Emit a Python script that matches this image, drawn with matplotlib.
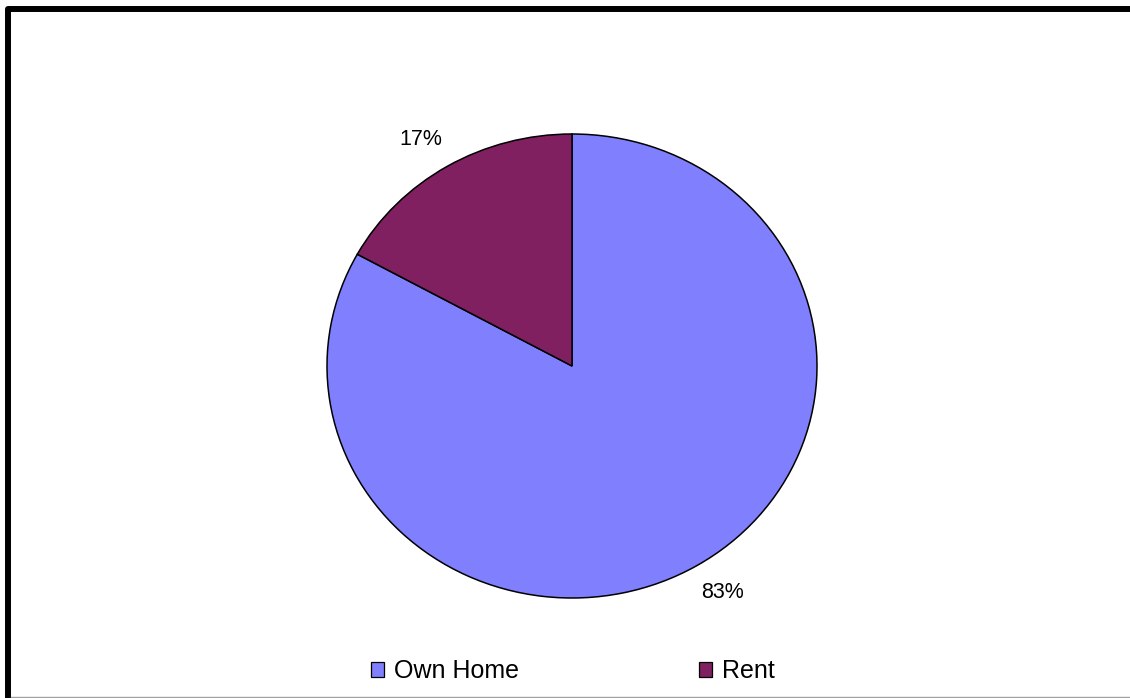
import matplotlib
matplotlib.use("Agg")
import numpy as np
import matplotlib.pyplot as plt
from matplotlib.lines import Line2D
from matplotlib.patches import Patch

plt.rcParams['font.family'] = ['Liberation Sans', 'DejaVu Sans']

categories = ['Own Home', 'Rent']
shares = [83, 17]
colors = ['#8080FF', '#802060']

W, H = 1130, 698
fig = plt.figure(figsize=(W / 100, H / 100), dpi=100)
fig.patch.set_facecolor('white')

# pie area (pixel box, slightly wider than tall)
left, top, right, bottom = 327, 134, 817, 598
ax = fig.add_axes([left / W, 1 - bottom / H, (right - left) / W, (bottom - top) / H])
wedges, _ = ax.pie(
    shares, colors=colors, startangle=90, counterclock=False,
    wedgeprops=dict(edgecolor='black', linewidth=1.1),
)
ax.set_aspect('auto')
ax.set_xlim(-1.0, 1.0)
ax.set_ylim(-1.0, 1.0)
ax.axis('off')

# percentage labels just outside each wedge
total = sum(shares)
for w, v in zip(wedges, shares):
    ang = np.deg2rad((w.theta1 + w.theta2) / 2 + 1.6)
    r = 1.155
    ax.text(r * np.cos(ang), r * np.sin(ang), f'{100 * v / total:.0f}%',
            ha='center', va='center', fontsize=15.5, color='black')

# legend
handles = [Patch(facecolor=c, edgecolor='black', linewidth=0.9) for c in colors]
fig.legend(handles, categories, loc='center', bbox_to_anchor=(573 / W, 1 - 671 / H),
           ncol=2, frameon=False, fontsize=18, handlelength=0.53, handleheight=0.53,
           handletextpad=0.4, columnspacing=7.2)

# chart border (thick on left/top, thin grey at bottom)
def px(x, y):
    return x / W, 1 - y / H

xs, ys = zip(px(8, 700), px(8, 9), px(1135, 9))
fig.add_artist(Line2D(xs, ys, transform=fig.transFigure, color='black',
                      linewidth=4.3, solid_joinstyle='round'))
xs, ys = zip(px(11, 697), px(1135, 697))
fig.add_artist(Line2D(xs, ys, transform=fig.transFigure, color='#A0A0A0', linewidth=1.0))

fig.savefig('out.png', dpi=100)
